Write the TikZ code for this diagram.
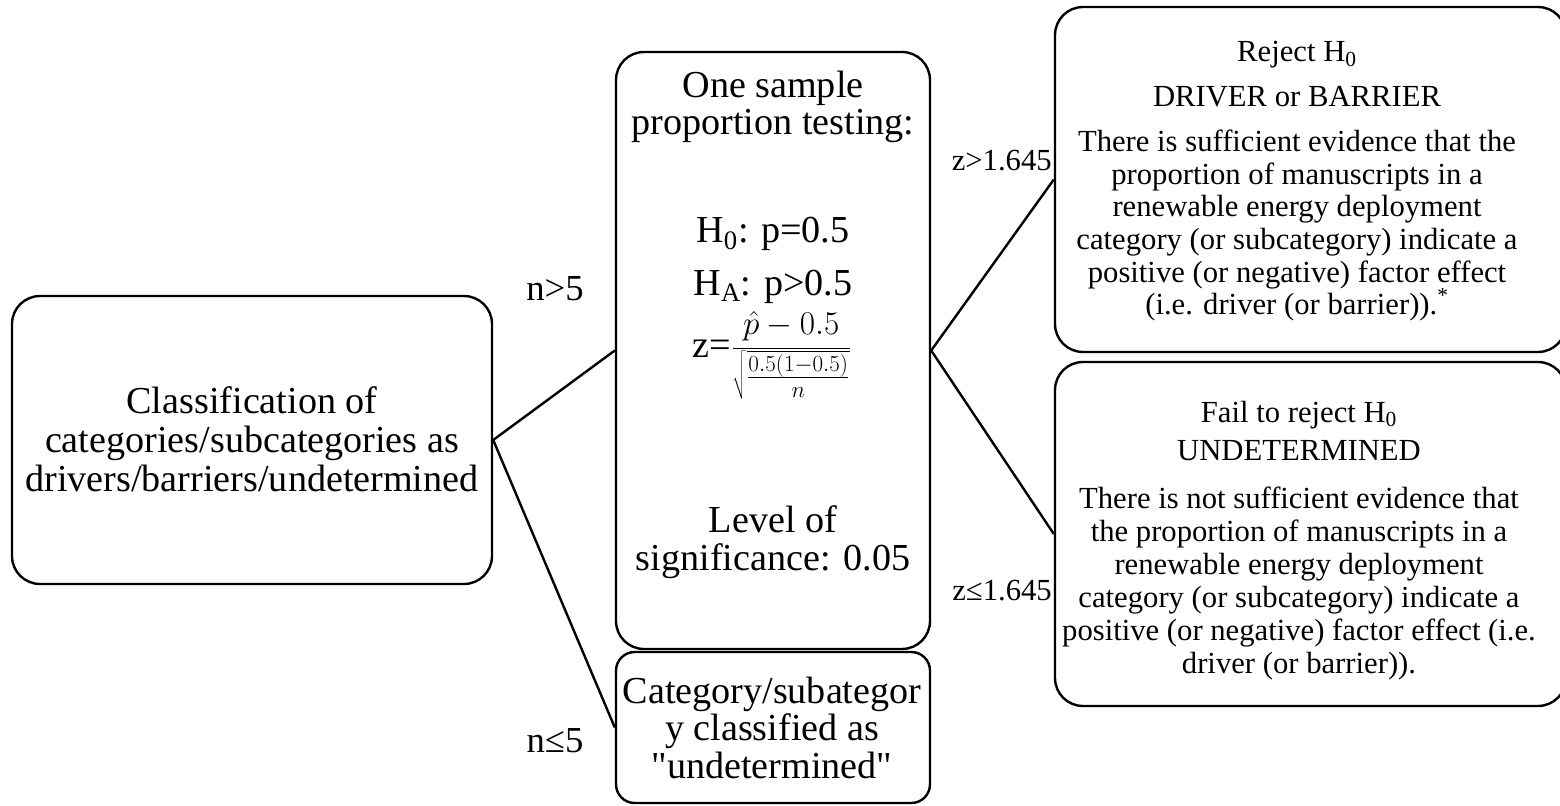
\documentclass[tikz,border=0pt]{standalone}
\usepackage{fontspec}
\setmainfont{Liberation Serif}
\newfontfamily\plainserif{Liberation Serif}[Ligatures=TeXOff]
\usetikzlibrary{fit}

\begin{document}
\begin{tikzpicture}[x=0.75pt,y=-0.75pt,
  box/.style={draw, line width=1.8pt, rounded corners=21pt, inner sep=0pt},
  smallbox/.style={box, rounded corners=14pt},
  big/.style={font=\fontsize{28.6}{29}\selectfont, inner sep=0pt, anchor=base},
  small/.style={font=\fontsize{23}{24.4}\selectfont, inner sep=0pt, anchor=base},
  lbl/.style={font=\fontsize{27.5}{28}\selectfont, inner sep=0pt, anchor=base},
  zlbl/.style={font=\fontsize{23}{24}\selectfont, inner sep=0pt, anchor=base east},
  link/.style={line width=1.8pt}]
\useasboundingbox (0,0) rectangle (1560,806);

% boxes
\node[box, fit={(12,296) (492,584)}] (cls) {};
\node[box, fit={(616,52) (930,649)}] (test) {};
\node[smallbox, fit={(616,652) (930,803)}] (undet) {};
\node[box, fit={(1055,7) (1566,352)}] (reject) {};
\node[box, fit={(1055,362) (1566,706)}] (fail) {};

% connectors
\draw[link] (cls.east) -- (test.west);
\draw[link] (cls.east) -- (undet.west);
\draw[link] (test.east) -- (reject.west);
\draw[link] (test.east) -- (fail.west);

% branch labels
\node[lbl] (ngt) at (555,300) {n>5};
\node[lbl] (nle) at (555,752) {n≤5};
\node[zlbl] (zgt) at (1052,171) {z>1.645};
\node[zlbl] (zle) at (1052,600) {z≤1.645};

% classification box
\node[big] (c1) at (252,413) {Classification of};
\node[big] (c2) at (252,452) {categories/subcategories as};
\node[big] (c3) at (252,491) {drivers/barriers/undetermined};

% test box
\node[big] (m1) at (773,98) {One sample};
\node[big] (m2) at (773,135) {proportion testing:};
\node[big] (m3) at (773,243) {H\textsubscript{0}: p=0.5};
\node[big] (m4) at (773,295) {H\textsubscript{A}: p>0.5};
\node[inner sep=0pt, anchor=base] (m5) at (772,357)
  {\fontsize{28.6}{29}\selectfont z=\fontsize{25}{28}\selectfont$\displaystyle\frac{\hat{p}-0.5}{\sqrt{\frac{0.5(1-0.5)}{n}}}$};
\node[big] (m6) at (773,532) {Level of};
\node[big] (m7) at (773,570) {significance: 0.05};

% small-sample box
\node[big] (b1) at (772,703) {Category/subategor};
\node[big] (b2) at (772,740) {y classified as};
\node[big] (b3) at (772,778) {\plainserif "undetermined"};

% reject box
\node[small] (r1) at (1297,62) {Reject H\textsubscript{0}};
\node[small] (r2) at (1297,107) {DRIVER or BARRIER};
\node[small] (r3) at (1297,152) {There is sufficient evidence that the};
\node[small] (r4) at (1297,184.5) {proportion of manuscripts in a};
\node[small] (r5) at (1297,217) {renewable energy deployment};
\node[small] (r6) at (1297,249.5) {category (or subcategory) indicate a};
\node[small] (r7) at (1297,282) {positive (or negative) factor effect};
\node[small] (r8) at (1297,314.5) {(i.e. driver (or barrier)).\textsuperscript{*}};

% fail-to-reject box
\node[small] (s1) at (1299,422) {Fail to reject H\textsubscript{0}};
\node[small] (s2) at (1299,460) {UNDETERMINED};
\node[small] (s3) at (1299,508) {There is not sufficient evidence that};
\node[small] (s4) at (1299,541) {the proportion of manuscripts in a};
\node[small] (s5) at (1299,574) {renewable energy deployment};
\node[small] (s6) at (1299,607) {category (or subcategory) indicate a};
\node[small] (s7) at (1299,640) {positive (or negative) factor effect (i.e.};
\node[small] (s8) at (1299,673) {driver (or barrier)).};
\end{tikzpicture}
\end{document}
